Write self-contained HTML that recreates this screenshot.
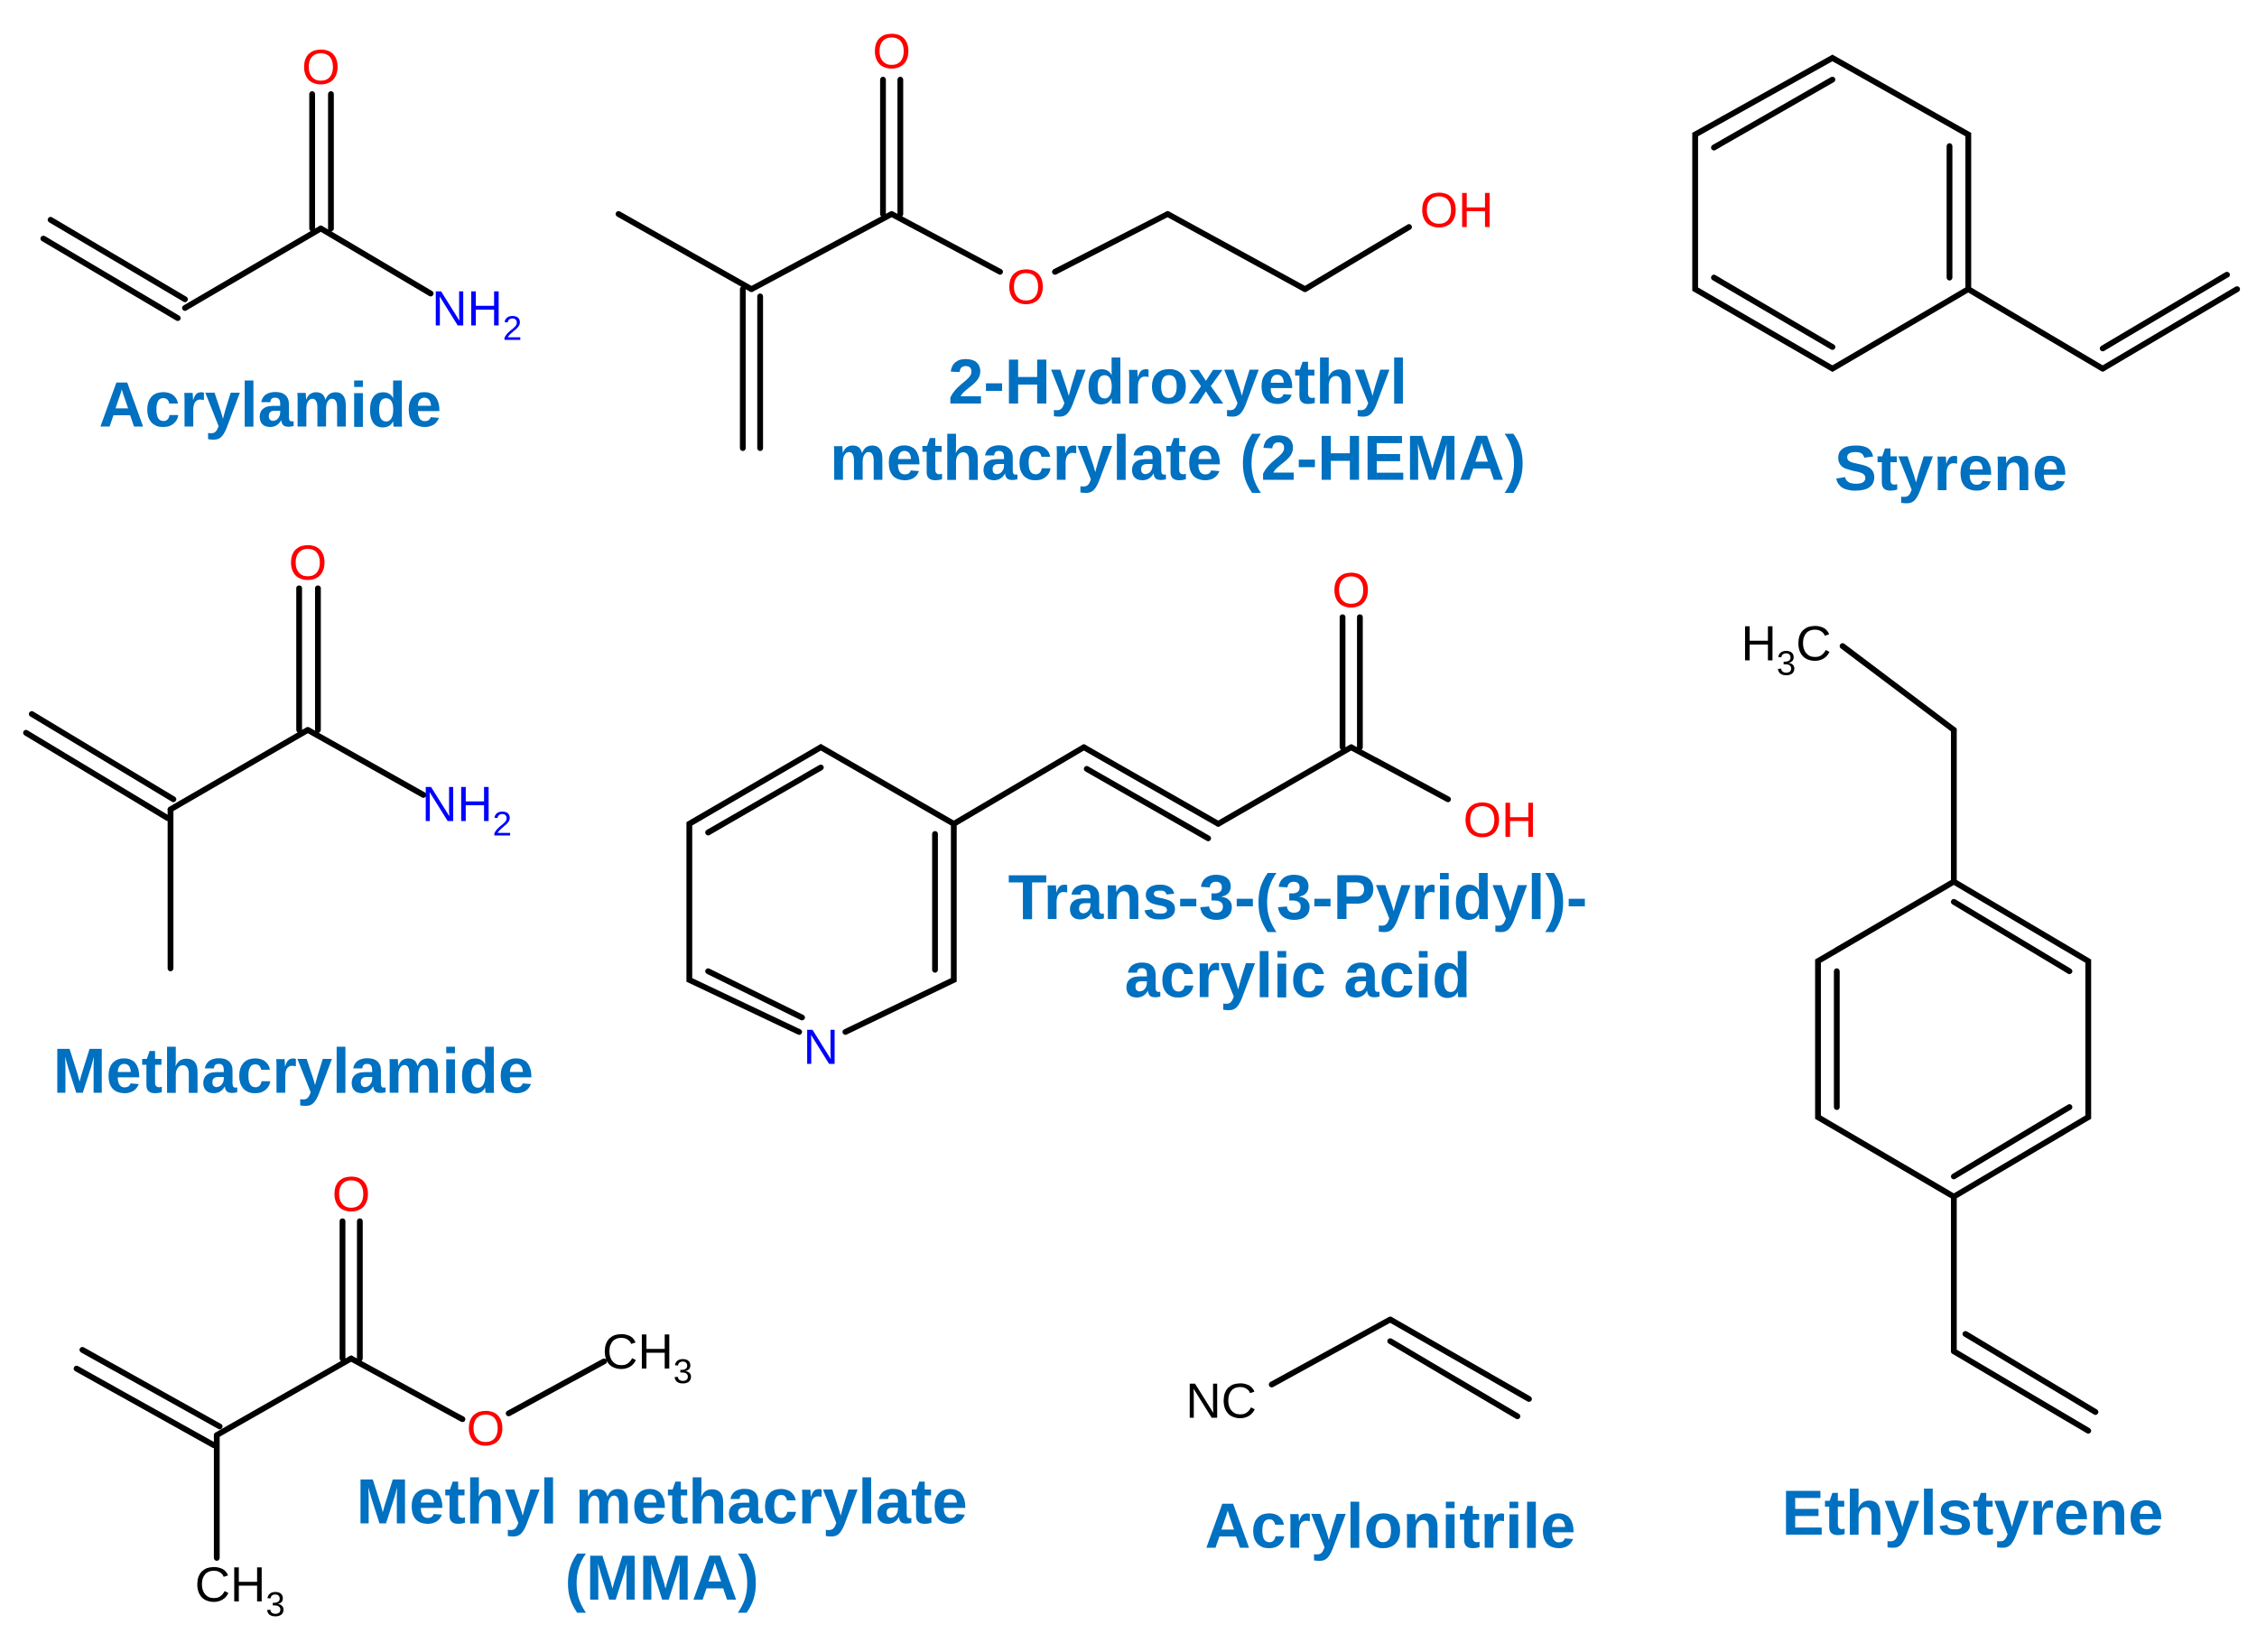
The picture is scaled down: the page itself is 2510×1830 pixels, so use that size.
<!DOCTYPE html>
<html><head><meta charset="utf-8"><style>
html,body{margin:0;padding:0;background:#fff;}
svg{display:block;}
.b{stroke:#000;stroke-width:4;fill:none;stroke-linecap:round;}
.lab{font-family:"Liberation Sans",Arial,sans-serif;font-weight:bold;font-size:44px;fill:#0070c0;text-anchor:middle;}
.at{font-family:"Liberation Sans",Arial,sans-serif;font-size:34px;text-anchor:middle;}
.o{fill:#ff0000;} .n{fill:#0000ff;} .c{fill:#000;}
.s{font-size:24px;}
</style></head><body>
<svg width="2510" height="1830" viewBox="0 0 1568 1143" xmlns="http://www.w3.org/2000/svg">
<rect width="1568" height="1143" fill="#fff"/>
<g class="b">
<line x1="35" y1="152" x2="128" y2="207"/><line x1="30" y1="165" x2="123" y2="220"/>
<line x1="128" y1="213" x2="222" y2="158"/>
<line x1="216" y1="158" x2="216" y2="65"/><line x1="229" y1="158" x2="229" y2="65"/>
<line x1="222" y1="158" x2="298" y2="203"/>
</g>
<text class="at o" x="222" y="58">O</text>
<text class="at n" x="330" y="225">NH<tspan class="s" dy="10">2</tspan></text>
<text class="lab" x="187" y="295">Acrylamide</text>
<g class="b">
<line x1="428" y1="148" x2="520" y2="200"/><line x1="520" y1="200" x2="617" y2="148"/>
<line x1="611" y1="148" x2="611" y2="55"/><line x1="623" y1="148" x2="623" y2="55"/>
<line x1="514" y1="200" x2="514" y2="310"/><line x1="526" y1="205" x2="526" y2="310"/>
<line x1="617" y1="148" x2="692" y2="188"/><line x1="730" y1="188" x2="808" y2="148"/>
<line x1="808" y1="148" x2="903" y2="200"/><line x1="903" y1="200" x2="975" y2="157"/>
</g>
<text class="at o" x="617" y="47">O</text>
<text class="at o" x="710" y="210">O</text>
<text class="at o" x="1008" y="157">OH</text>
<text class="lab" x="815" y="279">2-Hydroxyethyl</text>
<text class="lab" x="815" y="332">methacrylate (2-HEMA)</text>
<g class="b">
<polygon points="1268,40 1362,93 1362,200 1268,255 1173,200 1173,93"/>
<line x1="1186" y1="102" x2="1268" y2="55"/><line x1="1349" y1="101" x2="1349" y2="192"/><line x1="1186" y1="192" x2="1268" y2="240"/>
<line x1="1362" y1="200" x2="1455" y2="255"/><line x1="1455" y1="255" x2="1548" y2="200"/><line x1="1455" y1="241" x2="1541" y2="190"/>
</g>
<text class="lab" x="1350" y="339">Styrene</text>
<g class="b">
<line x1="22" y1="494" x2="120" y2="553"/><line x1="18" y1="507" x2="116" y2="566"/>
<line x1="118" y1="560" x2="213" y2="505"/>
<line x1="207" y1="505" x2="207" y2="407"/><line x1="220" y1="505" x2="220" y2="407"/>
<line x1="213" y1="505" x2="293" y2="550"/>
<line x1="118" y1="560" x2="118" y2="670"/>
</g>
<text class="at o" x="213" y="401">O</text>
<text class="at n" x="323" y="568">NH<tspan class="s" dy="10">2</tspan></text>
<text class="lab" x="203" y="756">Methacrylamide</text>
<g class="b">
<polyline points="553,714 477,678 477,570 568,517 660,570 660,678 585,714"/>
<line x1="490" y1="576" x2="568" y2="531"/><line x1="647" y1="577" x2="647" y2="671"/><line x1="490" y1="672" x2="555" y2="704"/>
<line x1="660" y1="570" x2="750" y2="517"/><line x1="750" y1="517" x2="843" y2="570"/><line x1="752" y1="532" x2="836" y2="580"/>
<line x1="843" y1="570" x2="935" y2="517"/>
<line x1="929" y1="517" x2="929" y2="427"/><line x1="941" y1="517" x2="941" y2="427"/>
<line x1="935" y1="517" x2="1002" y2="553"/>
</g>
<text class="at n" x="568" y="736">N</text>
<text class="at o" x="935" y="420">O</text>
<text class="at o" x="1038" y="579">OH</text>
<text class="lab" x="898" y="636">Trans-3-(3-Pyridyl)-</text>
<text class="lab" x="898" y="690">acrylic acid</text>
<g class="b">
<line x1="1275" y1="447" x2="1352" y2="505"/><line x1="1352" y1="505" x2="1352" y2="610"/>
<polygon points="1352,610 1445,665 1445,773 1352,828 1258,773 1258,665"/>
<line x1="1352" y1="624" x2="1432" y2="672"/><line x1="1432" y1="766" x2="1352" y2="814"/><line x1="1271" y1="672" x2="1271" y2="766"/>
<line x1="1352" y1="828" x2="1352" y2="935"/><line x1="1352" y1="935" x2="1445" y2="990"/><line x1="1360" y1="923" x2="1450" y2="977"/>
</g>
<text class="at c" x="1236" y="457">H<tspan class="s" dy="10">3</tspan><tspan dy="-10">C</tspan></text>
<text class="lab" x="1365" y="1062">Ethylstyrene</text>
<g class="b">
<line x1="57" y1="934" x2="152" y2="987"/><line x1="53" y1="947" x2="148" y2="1000"/>
<line x1="150" y1="993" x2="243" y2="940"/>
<line x1="237" y1="940" x2="237" y2="845"/><line x1="249" y1="940" x2="249" y2="845"/>
<line x1="243" y1="940" x2="320" y2="982"/><line x1="352" y1="978" x2="418" y2="942"/>
<line x1="150" y1="993" x2="150" y2="1078"/>
</g>
<text class="at o" x="243" y="838">O</text>
<text class="at o" x="336" y="1000">O</text>
<text class="at c" x="448" y="947">CH<tspan class="s" dy="10">3</tspan></text>
<text class="at c" x="166" y="1108">CH<tspan class="s" dy="10">3</tspan></text>
<text class="lab" x="458" y="1054">Methyl methacrylate</text>
<text class="lab" x="458" y="1107">(MMA)</text>
<g class="b">
<line x1="880" y1="958" x2="962" y2="913"/><line x1="962" y1="913" x2="1058" y2="968"/><line x1="962" y1="928" x2="1050" y2="980"/>
</g>
<text class="at c" x="845" y="981">NC</text>
<text class="lab" x="962" y="1071">Acrylonitrile</text>
</svg>
</body></html>
